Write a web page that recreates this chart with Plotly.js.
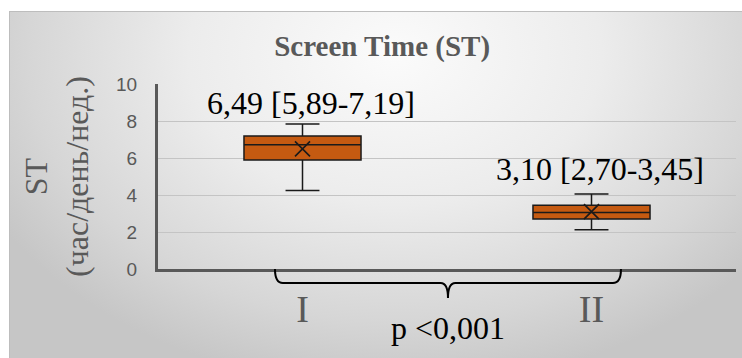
<!DOCTYPE html>
<html>
<head>
<meta charset="utf-8">
<script src="https://cdn.plot.ly/plotly-3.0.1.min.js"></script>
<style>
  html, body { margin: 0; padding: 0; background: #ffffff; }
  #wrap { position: relative; width: 742px; height: 358px; overflow: hidden; }
  #bg { position: absolute; left: 9px; top: 11px; width: 740px; height: 352px;
        border-left: 1px solid #bdbdbd; border-top: 1px solid #bdbdbd;
        background: radial-gradient(ellipse 62% 95% at 52% 12%, #fbfbfb 0%, #ececec 45%, #d6d6d6 80%, #c6c6c6 100%); }
  #chart { position: absolute; left: 0; top: 0; width: 742px; height: 358px; }
</style>
</head>
<body>
<div id="wrap"><div id="bg"></div><div id="chart"></div></div>
<script>
// Data
const groups = ['I', 'II'];
const lowerWhisker = [4.25, 2.12];
const q1 = [5.89, 2.70];
const median = [6.72, 3.05];
const q3 = [7.19, 3.45];
const upperWhisker = [7.84, 4.05];
const mean = [6.49, 3.10];
const pText = 'p <0,001';
const yTicks = [0, 2, 4, 6, 8, 10];

const fmt = v => v.toFixed(2).replace('.', ',');

const boxTrace = {
  type: 'box',
  x: groups,
  q1: q1, median: median, q3: q3,
  lowerfence: lowerWhisker, upperfence: upperWhisker,
  fillcolor: '#c55a11',
  line: { color: '#1a1a1a', width: 1.5 },
  width: 0.405,
  whiskerwidth: 0.29,
  boxpoints: false,
  hoverinfo: 'skip',
  showlegend: false
};

const meanTrace = {
  type: 'scatter',
  mode: 'markers',
  x: groups,
  y: mean,
  marker: { symbol: 'x-thin', size: 15, line: { color: '#1a1a1a', width: 1.6 } },
  hoverinfo: 'skip',
  showlegend: false
};

const serif = '"Liberation Serif", "Times New Roman", Times, serif';

const annotations = groups.map((g, i) => ({
  x: g, y: upperWhisker[i], xref: 'x', yref: 'y',
  text: fmt(mean[i]) + ' [' + fmt(q1[i]) + '-' + fmt(q3[i]) + ']',
  showarrow: false, xanchor: 'center', yanchor: 'bottom',
  xshift: 8, yshift: i === 0 ? 1 : 5,
  font: { family: serif, size: 32, color: '#000000' }
}));
annotations.push({
  x: 0.5017, y: -0.21, xref: 'paper', yref: 'paper',
  text: pText, showarrow: false, xanchor: 'center', yanchor: 'top',
  font: { family: serif, size: 32, color: '#000000' }
});

const layout = {
  width: 742, height: 358,
  margin: { l: 158, r: 6, t: 84, b: 89 },
  paper_bgcolor: 'rgba(0,0,0,0)',
  plot_bgcolor: 'rgba(0,0,0,0)',
  title: {
    text: '<b>Screen Time (ST)</b>',
    font: { family: serif, size: 29, color: '#595959' },
    x: 0.515, xanchor: 'center', y: 0.872, yanchor: 'middle', yref: 'container'
  },
  xaxis: {
    type: 'category',
    categoryorder: 'array', categoryarray: groups,
    range: [-0.5, 1.5],
    showline: true, linecolor: '#595959', linewidth: 3,
    showgrid: false, zeroline: false,
    ticks: '',
    ticklabelstandoff: 4,
    tickfont: { family: serif, size: 38, color: '#595959' },
    fixedrange: true
  },
  yaxis: {
    range: [0, 10],
    tickvals: yTicks,
    showline: true, linecolor: '#595959', linewidth: 3,
    showgrid: true, gridcolor: '#c4c4c4', gridwidth: 1,
    zeroline: false,
    ticks: '',
    ticklabelstandoff: 14,
    tickfont: { family: '"Liberation Sans", Arial, sans-serif', size: 19, color: '#595959' },
    title: {
      text: 'ST<br>(час/день/нед.)',
      font: { family: serif, size: 32, color: '#595959' },
      standoff: 18
    },
    fixedrange: true
  },
  shapes: [{
    type: 'path', xref: 'paper', yref: 'paper',
    path: 'M 0.2024,0 Q 0.2024,-0.0757 0.216,-0.0757 L 0.489,-0.0757 Q 0.5017,-0.0757 0.5017,-0.157 Q 0.5017,-0.0757 0.5144,-0.0757 L 0.787,-0.0757 Q 0.801,-0.0757 0.801,0',
    line: { color: '#000000', width: 2 }
  }],
  annotations: annotations
};

Plotly.newPlot('chart', [boxTrace, meanTrace], layout, { displayModeBar: false, staticPlot: true });
</script>
</body>
</html>
